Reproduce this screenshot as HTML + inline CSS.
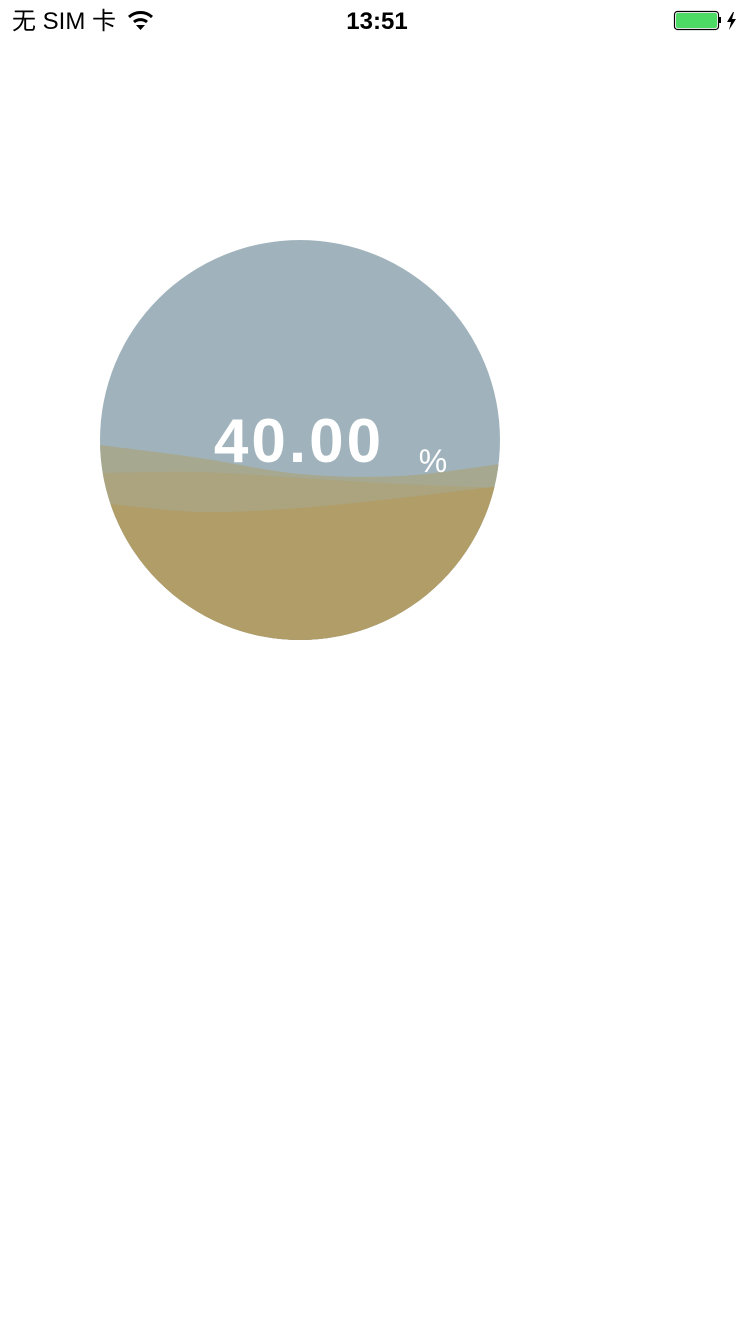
<!DOCTYPE html>
<html><head><meta charset="utf-8"><style>
body{margin:0;width:750px;height:1334px;background:#fff;overflow:hidden;font-family:"Liberation Sans","Noto Sans CJK SC",sans-serif;}
#status{position:absolute;top:0;left:0;width:750px;height:40px;}
</style></head><body>
<svg id="status" width="750" height="40">
<text x="12" y="29" font-size="24" fill="#000" font-family="Liberation Sans, Noto Sans CJK SC, sans-serif">无 SIM 卡</text>
<g fill="none" stroke="#000" stroke-width="3">
<path d="M129 17 A17 17 0 0 1 152 17"/><path d="M134 22 A10 10 0 0 1 147 22"/></g>
<path d="M136 25 L145 25 L140.5 30 Z" fill="#000"/>
<text x="377" y="29" font-size="24" font-weight="bold" text-anchor="middle" fill="#000">13:51</text>
<g>
<rect x="674.5" y="11.5" width="44" height="18" rx="3" fill="none" stroke="#000" stroke-width="1.2"/>
<rect x="676" y="13" width="41" height="15" rx="2" fill="#4cd964"/>
<rect x="719" y="17" width="2" height="6" fill="#000"/>
<path d="M733 12 L727 22 L731 22 L729 30 L736 19 L732 19 L734 12 Z" fill="#000"/></g>
</svg>
<svg width="750" height="1334" style="position:absolute;top:0;left:0" id="gauge">
<defs><clipPath id="c"><circle cx="300" cy="440" r="200"/></clipPath></defs>
<circle cx="300" cy="440" r="200" fill="#a0b3bc"/>
<g id="waves" clip-path="url(#c)"></g>
<text x="299" y="462" font-size="62" font-weight="bold" letter-spacing="3" fill="#fff" text-anchor="middle" id="val">40.00</text>
<text x="433" y="472" font-size="32" fill="#fff" text-anchor="middle">%</text>
</svg>
<script>
const progress = 40;
const waveX = [100, 200, 300, 400, 500];
const wave1 = [445, 458, 474, 476, 464];
const wave2 = [473, 472, 478, 484, 488];
const wave3 = [503, 512, 508, 498, 486];
const colors = ['#a6a890', '#aba47f', '#b09d68'];
document.getElementById('val').textContent = progress.toFixed(2);
const g = document.getElementById('waves');
function path(ys){
  const n = waveX.length;
  let d = 'M90 ' + ys[0] + ' L' + waveX[0] + ' ' + ys[0];
  for (let i = 1; i < n; i++) {
    const x0 = waveX[Math.max(i-2,0)], y0 = ys[Math.max(i-2,0)];
    const x1 = waveX[i-1], y1 = ys[i-1], x2 = waveX[i], y2 = ys[i];
    const x3 = waveX[Math.min(i+1,n-1)], y3 = ys[Math.min(i+1,n-1)];
    const c1x = x1 + (x2 - x0) / 6, c1y = y1 + (y2 - y0) / 6;
    const c2x = x2 - (x3 - x1) / 6, c2y = y2 - (y3 - y1) / 6;
    d += ' C' + c1x + ' ' + c1y + ' ' + c2x + ' ' + c2y + ' ' + x2 + ' ' + y2;
  }
  d += ' L510 ' + ys[n-1] + ' L510 650 L90 650 Z';
  return d;
}
[wave1, wave2, wave3].forEach((w, i) => {
  const p = document.createElementNS('http://www.w3.org/2000/svg', 'path');
  p.setAttribute('d', path(w));
  p.setAttribute('fill', colors[i]);
  
  
  g.appendChild(p);
});
</script>
</body></html>
